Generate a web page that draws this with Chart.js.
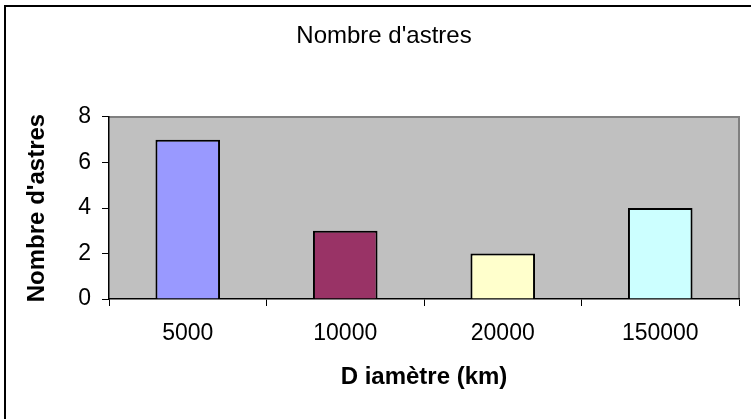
<!DOCTYPE html>
<html>
<head>
<meta charset="utf-8">
<script src="https://cdn.jsdelivr.net/npm/chart.js@4/dist/chart.umd.min.js"></script>
<style>
  html, body { margin: 0; padding: 0; background: #ffffff; }
  #wrap { position: relative; width: 751px; height: 419px; }
  #frame { position: absolute; left: 4px; top: 5px; width: 800px; height: 500px;
           border-left: 2px solid #000; border-top: 2px solid #000; pointer-events: none; }
</style>
</head>
<body>
<div id="wrap">
  <canvas id="c" width="751" height="419"></canvas>
  <div id="frame"></div>
</div>
<script>
const chartTitle = "Nombre d'astres";
const categories = ["5000", "10000", "20000", "150000"];
const counts = [7, 3, 2, 4];
const barColors = ["#9999FF", "#993366", "#FFFFCC", "#CCFFFF"];
const yTitle = "Nombre d'astres";
const xTitle = "D iamètre (km)";
const yMin = 0, yMax = 8, yStep = 2;

const FONT = "'Liberation Sans', Arial, sans-serif";

const plotBg = {
  id: 'plotBg',
  beforeDraw(chart) {
    const {ctx, chartArea: a} = chart;
    ctx.save();
    ctx.fillStyle = '#C0C0C0';
    ctx.fillRect(a.left, a.top, a.right - a.left, a.bottom - a.top);
    ctx.strokeStyle = '#808080';
    ctx.lineWidth = 2;
    ctx.beginPath();
    ctx.moveTo(a.left, a.top);
    ctx.lineTo(a.right, a.top);
    ctx.lineTo(a.right, a.bottom);
    ctx.stroke();
    ctx.restore();
  }
};

new Chart(document.getElementById('c'), {
  type: 'bar',
  data: {
    labels: categories,
    datasets: [{
      data: counts,
      backgroundColor: barColors,
      borderColor: '#000000',
      borderWidth: 2,
      categoryPercentage: 1,
      barPercentage: 0.41
    }]
  },
  options: {
    responsive: false,
    animation: false,
    devicePixelRatio: 1,
    layout: { padding: { left: 29, right: 12, top: 0, bottom: 0 } },
    plugins: {
      legend: { display: false },
      tooltip: { enabled: false },
      title: {
        display: true,
        text: chartTitle,
        color: '#000',
        font: { family: FONT, size: 24, weight: 'normal', lineHeight: 1.2 },
        padding: { top: 21.6, bottom: 66.6 }
      }
    },
    scales: {
      x: {
        afterFit(s) { s.height = 120; },
        grid: { drawOnChartArea: false, drawTicks: true, tickLength: 7, color: '#000', offset: true },
        border: { display: true, color: '#000', width: 1.5 },
        ticks: { color: '#000', font: { family: FONT, size: 23 }, padding: 14, maxRotation: 0, autoSkip: false },
        title: {
          display: true, text: xTitle, color: '#000',
          font: { family: FONT, size: 24, weight: 'bold', lineHeight: 1.2 },
          padding: { top: 0, bottom: 27.6 }
        }
      },
      y: {
        min: yMin, max: yMax,
        afterFit(s) { s.width = 80; },
        grid: { drawOnChartArea: false, drawTicks: true, tickLength: 7, color: '#000' },
        border: { display: true, color: '#000', width: 1.5 },
        ticks: { stepSize: yStep, color: '#000', font: { family: FONT, size: 23 }, padding: 11 },
        title: {
          display: true, text: yTitle, color: '#000',
          font: { family: FONT, size: 24, weight: 'bold', lineHeight: 0.667 },
          padding: { top: 0, bottom: 0 }
        }
      }
    }
  },
  plugins: [plotBg]
});
</script>
</body>
</html>
